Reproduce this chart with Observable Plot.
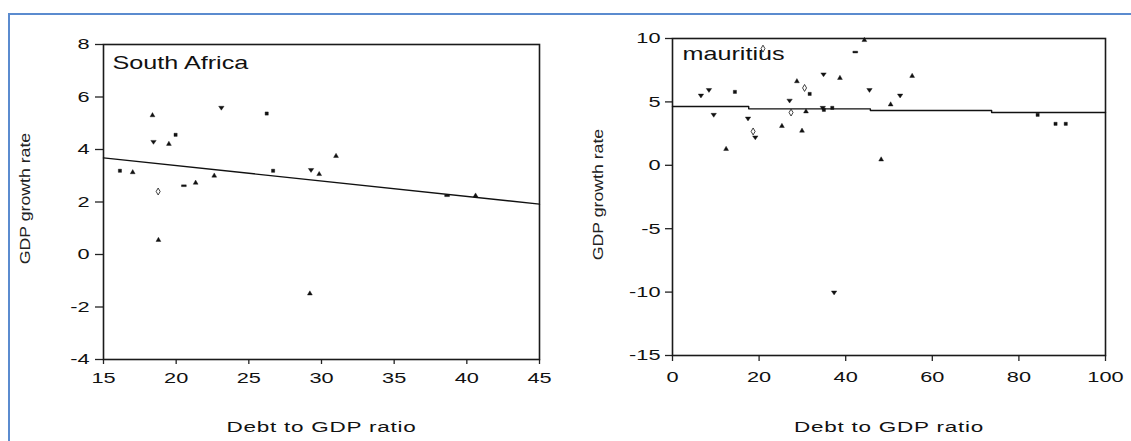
<!DOCTYPE html>
<html><head><meta charset="utf-8">
<script src="https://cdn.jsdelivr.net/npm/d3@7"></script>
<script src="https://cdn.jsdelivr.net/npm/@observablehq/plot@0.6"></script>
<style>
html,body{margin:0;padding:0;background:#fff;}
#wrap{position:relative;width:1131px;height:441px;overflow:hidden;background:#fff;}
#border{position:absolute;left:8px;top:13px;width:1300px;height:600px;border-top:2px solid #5b8bcf;border-left:2px solid #5b8bcf;box-sizing:border-box;}
.panel{position:absolute;top:0;}
.panel svg{display:block;overflow:visible;}
.panel svg text{font-family:"Liberation Sans",Arial,sans-serif;}
</style>
</head><body>
<div id="wrap"><div id="border"></div><div class="panel" id="left" style="left:0px"></div><div class="panel" id="right" style="left:560px"></div></div>
<script>
// ---- South Africa ----
const saDebt   = [16.13,17.01,18.37,18.44,18.76,18.78,19.50,19.96,20.53,21.34,22.62,23.11,26.23,26.67,29.20,29.28,29.84,31.00,38.64,40.60];
const saGrowth = [3.19,3.13,5.30,4.29,2.40,0.55,4.21,4.56,2.62,2.73,3.00,5.59,5.37,3.19,-1.49,3.22,3.06,3.75,2.24,2.24];
const saMarker = ["sq","up","up","down","dia","up","up","sq","dash","up","up","down","sq","sq","up","down","up","up","dash","up"];
const saFitDebt = [15,45];
const saFitGrowth = [3.68,1.92];
const saXTicks = [15,20,25,30,35,40,45];
const saYTicks = [-4,-2,0,2,4,6,8];
const saName = "South Africa";

// ---- Mauritius ----
const muDebt   = [6.57,8.42,9.52,12.38,14.41,17.44,18.62,19.12,25.27,27.04,27.38,28.73,29.91,30.50,30.83,31.68,34.71,34.88,34.96,36.90,37.32,38.67,42.21,44.31,45.49,48.19,50.38,52.57,55.35,84.33,88.46,90.82,20.9];
const muGrowth = [5.50,5.94,3.98,1.28,5.79,3.69,2.67,2.20,3.09,5.10,4.16,6.62,2.72,6.10,4.24,5.63,4.53,7.17,4.37,4.53,-10.03,6.88,8.93,9.87,5.94,0.45,4.79,5.50,7.04,3.98,3.27,3.27,9.2];
const muMarker = ["down","down","down","up","sq","down","dia","down","up","down","dia","up","up","dia","up","sq","down","down","sq","sq","down","up","dash","up","down","up","up","down","up","sq","sq","sq","dia"];
const muFitDebt = [0,17.6,45.7,73.7,100];
const muFitGrowth = [4.64,4.45,4.32,4.16,4.16];
const muXTicks = [0,20,40,60,80,100];
const muYTicks = [-15,-10,-5,0,5,10];
const muName = "mauritius";

const xTitle = "Debt to GDP ratio";
const yTitle = "GDP growth rate";

const SYM = {
  up: "triangle",
  sq: "square",
  dia: "diamond",
  down: {draw(ctx, size){ const h = Math.sqrt(size)*0.85; ctx.moveTo(-h,-h*0.55); ctx.lineTo(h,-h*0.55); ctx.lineTo(0,h*0.9); ctx.closePath(); }},
  dash: {draw(ctx, size){ const w = Math.sqrt(size)*0.75, t = Math.sqrt(size)*0.28; ctx.rect(-w,-t,2*w,2*t); }}
};

function rows(xs, ys, ms){ return xs.map((x,i)=>({x, y: ys[i], m: ms[i]})); }
function fit(xs, ys){ return xs.map((x,i)=>({x, y: ys[i]})); }

// widen glyphs along the baseline around each text's own anchor point
function stretch(t, sx){
  const tr = t.getAttribute("transform") || "";
  const x = t.getAttribute("x");
  let extra = "";
  if (x != null && x !== "" && !isNaN(+x)) { extra = `translate(${+x},0) `; t.removeAttribute("x"); }
  t.setAttribute("transform", `${tr} ${extra}scale(${sx},1)`.trim());
}

function panel(o){
  const data = rows(o.xs, o.ys, o.ms);
  const kinds = Array.from(new Set(o.ms));
  const fmt = d => String(d);
  const svg = Plot.plot({
    width: o.width, height: 441,
    marginLeft: o.ml, marginRight: o.mr, marginTop: o.mt, marginBottom: o.mb,
    style: {fontFamily: "Liberation Sans, Arial, sans-serif", fontSize: "15px", background: "transparent", color: "#000"},
    x: {domain: o.xdom, ticks: o.xticks, tickFormat: fmt},
    y: {domain: o.ydom, ticks: o.yticks, tickFormat: fmt},
    marks: [
      Plot.axisX({ticks: o.xticks, tickFormat: fmt, tickSize: o.xts, tickPadding: o.xtp, label: null, stroke: "#222", strokeWidth: 1.3, fill: "#111"}),
      Plot.axisY({ticks: o.yticks, tickFormat: fmt, tickSize: o.yts, tickPadding: o.ytp, label: null, stroke: "#222", strokeWidth: 1.3, fill: "#111"}),
      Plot.frame({stroke: "#1a1a1a", strokeWidth: 1.6}),
      Plot.line(fit(o.fx, o.fy), {x: "x", y: "y", stroke: "#111", strokeWidth: 1.4, curve: o.curve}),
      ...kinds.map(k => Plot.dot(data.filter(d => d.m === k), {
        x: "x", y: "y", symbol: SYM[k], r: k === "dia" ? 2.1 : 1.8,
        fill: k === "dia" ? "white" : "#111", stroke: "#111", strokeWidth: k === "dia" ? 0.8 : 0.4
      })),
      Plot.text([o.name], {text: d => d, frameAnchor: "top-left", textAnchor: "start", lineAnchor: "top", dx: o.ndx, dy: o.ndy, fontSize: 18, fill: "#111"}),
      Plot.text([xTitle], {text: d => d, frameAnchor: "bottom", textAnchor: "middle", lineAnchor: "middle", dy: o.tdy, fontSize: 15, fill: "#111"}),
      Plot.text([yTitle], {text: d => d, frameAnchor: "left", textAnchor: "middle", rotate: -90, lineAnchor: "middle", dx: o.ldx, dy: o.ldy, fontSize: 14.5, fill: "#222"})
    ]
  });
  svg.querySelectorAll("text").forEach(t => {
    const txt = t.textContent;
    if (txt === yTitle) stretch(t, 1.22);
    else if (txt === xTitle) { t.style.letterSpacing = "0.5px"; stretch(t, 1.5); }
    else if (txt === o.name) stretch(t, 1.4);
    else stretch(t, 1.45);
  });
  return svg;
}

document.getElementById("left").appendChild(panel({
  width: 560, ml: 103, mr: 21, mt: 44, mb: 82,
  xdom: [15,45], ydom: [-4,8], xticks: saXTicks, yticks: saYTicks,
  xs: saDebt, ys: saGrowth, ms: saMarker, fx: saFitDebt, fy: saFitGrowth, curve: "linear",
  name: saName, ndx: 9, ndy: 12, tdy: 68, ldx: -78, ldy: -3.5,
  xts: 5, xtp: 8, yts: 8, ytp: 6
}));

document.getElementById("right").appendChild(panel({
  width: 571, ml: 112, mr: 26, mt: 38, mb: 86,
  xdom: [0,100], ydom: [-15,10], xticks: muXTicks, yticks: muYTicks,
  xs: muDebt, ys: muGrowth, ms: muMarker, fx: muFitDebt, fy: muFitGrowth, curve: "step-after",
  name: muName, ndx: 10, ndy: 9, tdy: 72, ldx: -74.5, ldy: -2.5,
  xts: 6, xtp: 10, yts: 7, ytp: 5
}));
</script>
</body></html>
